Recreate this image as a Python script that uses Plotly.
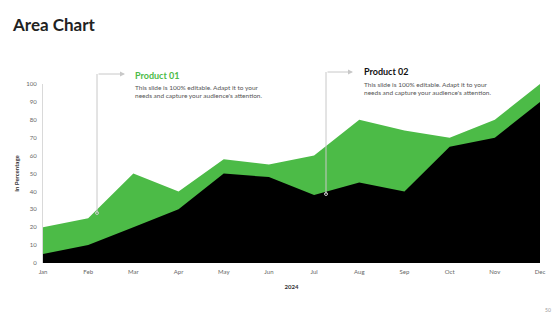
import plotly.graph_objects as go

months = ["Jan", "Feb", "Mar", "Apr", "May", "Jun", "Jul", "Aug", "Sep", "Oct", "Nov", "Dec"]
product_01 = [20, 25, 50, 40, 58, 55, 60, 80, 74, 70, 80, 100]
product_02 = [5, 10, 20, 30, 50, 48, 38, 45, 40, 65, 70, 90]
y_ticks = [0, 10, 20, 30, 40, 50, 60, 70, 80, 90, 100]

GREEN = "#4CBB47"
FONT = "Lato"

fig = go.Figure()
fig.add_trace(go.Scatter(x=months, y=product_01, mode="lines", fill="tozeroy",
                         line=dict(color=GREEN, width=0), fillcolor=GREEN,
                         name="Product 01", hoverinfo="x+y"))
fig.add_trace(go.Scatter(x=months, y=product_02, mode="lines", fill="tozeroy",
                         line=dict(color="#000000", width=0), fillcolor="#000000",
                         name="Product 02", hoverinfo="x+y"))

L, R, T, B = 43, 540, 84, 263
W, H = R - L, B - T
def px(x):
    return (x - L) / W
def py(y):
    return (B - y) / H

shapes = []
annotations = []
LINE = dict(color="#C8C8C8", width=1)
# connectors
for (x0, ybot, ytop, x1) in [(97, 213, 74, 125), (326, 194, 72, 353)]:
    shapes.append(dict(type="line", xref="paper", yref="paper",
                       x0=px(x0), x1=px(x0), y0=py(ybot), y1=py(ytop), line=LINE))
    shapes.append(dict(type="circle", xref="paper", yref="paper",
                       x0=px(x0 - 1.5), x1=px(x0 + 1.5), y0=py(ybot + 1.5), y1=py(ybot - 1.5),
                       line=dict(color="#C8C8C8", width=1), fillcolor="rgba(0,0,0,0)"))
    annotations.append(dict(xref="paper", yref="paper", x=px(x1), y=py(ytop),
                            ax=-(x1 - x0), ay=0, axref="pixel", ayref="pixel",
                            text="", showarrow=True, arrowhead=2, arrowsize=1,
                            arrowwidth=1, arrowcolor="#C8C8C8"))

desc = "This slide is 100% editable. Adapt it to your<br>needs and capture your audience's attention."
annotations += [
    dict(xref="paper", yref="paper", x=px(133), y=py(75), xanchor="left", yanchor="middle",
         text="<b>Product 01</b>", showarrow=False,
         font=dict(family=FONT, size=9, color=GREEN)),
    dict(xref="paper", yref="paper", x=px(133), y=py(82), xanchor="left", yanchor="top",
         text=desc, showarrow=False, align="left",
         font=dict(family=FONT, size=6.5, color="#555555")),
    dict(xref="paper", yref="paper", x=px(362), y=py(71), xanchor="left", yanchor="middle",
         text="<b>Product 02</b>", showarrow=False,
         font=dict(family=FONT, size=9, color="#111111")),
    dict(xref="paper", yref="paper", x=px(362), y=py(79), xanchor="left", yanchor="top",
         text=desc, showarrow=False, align="left",
         font=dict(family=FONT, size=6.5, color="#555555")),
    dict(xref="paper", yref="paper", x=px(10), y=py(25), xanchor="left", yanchor="middle",
         text="<b>Area Chart</b>", showarrow=False,
         font=dict(family=FONT, size=17, color="#222222")),
    dict(xref="paper", yref="paper", x=px(553), y=py(310), xanchor="right", yanchor="middle",
         text="50", showarrow=False,
         font=dict(family=FONT, size=5, color="#999999")),
]

fig.update_layout(
    width=560, height=315,
    margin=dict(l=L, r=560 - R, t=T, b=315 - B),
    paper_bgcolor="white", plot_bgcolor="white",
    showlegend=False,
    shapes=shapes, annotations=annotations,
    font=dict(family=FONT),
    xaxis=dict(type="category", range=[0, 11], showgrid=False, zeroline=False,
               showline=False, ticks="", ticklabelstandoff=4,
               tickfont=dict(size=6, color="#666666"),
               title=dict(text="<b>2024</b>", font=dict(size=6, color="#333333"), standoff=10)),
    yaxis=dict(range=[0, 100], tickvals=y_ticks, showgrid=False, zeroline=False,
               showline=True, linecolor="#D9D9D9", linewidth=1, ticks="",
               ticklabelstandoff=4,
               tickfont=dict(size=6, color="#666666"),
               title=dict(text="<b>In Percentage</b>", font=dict(size=6, color="#333333"), standoff=6)),
)

fig.write_html("out.html")
